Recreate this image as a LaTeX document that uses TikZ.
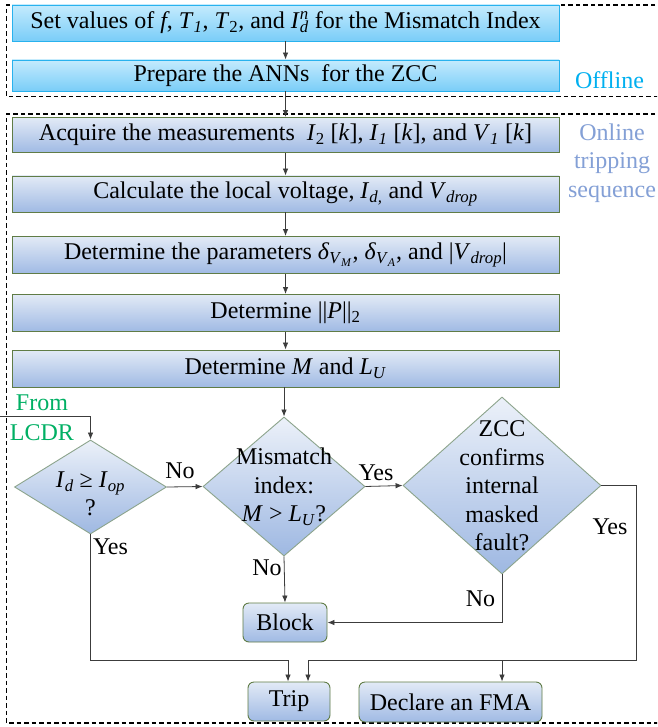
\documentclass[tikz,border=0pt]{standalone}
\usepackage{fontspec}
\setmainfont{Liberation Serif}
\usetikzlibrary{arrows.meta,shapes.geometric}

\definecolor{offtop}{RGB}{196,235,253}
\definecolor{offbot}{RGB}{122,205,248}
\definecolor{offedge}{RGB}{40,178,238}
\definecolor{ontop}{RGB}{226,234,246}
\definecolor{onbot}{RGB}{160,186,228}
\definecolor{onedge}{RGB}{96,124,70}
\definecolor{dtop}{RGB}{236,241,249}
\definecolor{dbot}{RGB}{158,184,226}
\definecolor{dedge}{RGB}{140,164,140}
\definecolor{linegray}{RGB}{60,60,60}
\definecolor{offcol}{RGB}{0,176,240}
\definecolor{oncol}{RGB}{132,160,214}
\definecolor{lcdrcol}{RGB}{0,176,100}

\tikzset{
  base/.style={font=\fontsize{24}{28.5}\selectfont, inner sep=0pt, align=center},
  offbox/.style={base, draw=offedge, line width=0.9pt, top color=offtop, bottom color=offbot,
    minimum width=547pt},
  onbox/.style={base, draw=onedge, line width=0.9pt, top color=ontop, bottom color=onbot,
    minimum width=547pt, minimum height=36pt},
  endbox/.style={base, draw=onedge, line width=0.9pt, top color=ontop, bottom color=onbot,
    rounded corners=6pt, minimum height=39pt},
  decision/.style={diamond, draw=dedge, line width=0.9pt, top color=dtop, bottom color=dbot,
    inner sep=0pt},
  dtext/.style={base},
  lbl/.style={base},
  arr/.style={draw=linegray, line width=0.8pt, -{Latex[length=7pt,width=5.5pt]}},
  frame/.style={draw=black, line width=1.1pt, dash pattern=on 4.5pt off 3pt},
  note/.style={base},
}

\newcommand{\vi}[1]{\textit{#1}}
\newcommand{\sbs}[1]{\textsubscript{#1}}

\begin{document}
\begin{tikzpicture}[x=1pt,y=-1pt]
\clip (0,0) rectangle (657,727);
\fill[white] (0,0) rectangle (657,727);

% dashed frames of the two stages
\draw[frame] (670,5) -- (6.5,5) -- (6.5,96.7) -- (670,96.7);
\draw[frame] (670,114) -- (6.5,114) -- (6.5,723) -- (670,723);

% offline stage
\node[offbox, minimum height=36pt] (b1) at (285.5,23)
  {Set values of \vi{f}, \vi{T}\sbs{\vi{1}}, \vi{T}\sbs{2}, and \vi{I}\rlap{\sbs{\vi{d}}}\textsuperscript{\vi{n}} for the Mismatch Index};
\node[offbox, minimum height=31pt] (b2) at (285.5,75.5) {Prepare the ANNs\ \ for the ZCC};
\node[note, text=offcol] (off) at (609.5,80) {Offline};

% online stage
\node[onbox, minimum height=35pt] (b3) at (285.5,135)
  {Acquire the measurements\ \ \vi{I}\sbs{2} [\vi{k}], \vi{I}\sbs{\vi{1}} [\vi{k}], and \vi{V}\sbs{\vi{1}} [\vi{k}]};
\node[onbox] (b4) at (285.5,194)
  {Calculate the local voltage, \vi{I}\sbs{\vi{d,}} and \vi{V}\sbs{\vi{drop}}};
\node[onbox, minimum height=37pt] (b5) at (285.5,255)
  {Determine the parameters \vi{δ}\sbs{\vi{V}\sbs{\vi{M}}}, \vi{δ}\sbs{\vi{V}\sbs{\vi{A}}}, and |\vi{V}\sbs{\vi{drop}}|};
\node[onbox, minimum height=37pt] (b6) at (285.5,313) {Determine ||\vi{P}||\sbs{2}};
\node[onbox, minimum height=37pt] (b7) at (285.5,368.5) {Determine \vi{M} and \vi{L}\sbs{\vi{U}}};
\node[note, text=oncol] (on) at (612,163) {Online\\tripping\\sequence};

% decisions
\node[decision, minimum width=152pt, minimum height=94pt] (d1) at (90.5,487) {};
\node[dtext] (d1t) at (90.5,494) {\vi{I}\sbs{\vi{d}} ≥ \vi{I}\sbs{\vi{op}}\\?};
\node[decision, minimum width=162pt, minimum height=139pt] (d2) at (284,486.5) {};
\node[dtext] (d2t) at (284,487) {Mismatch\\index:\\\vi{M} > \vi{L}\sbs{\vi{U}}?};
\node[decision, minimum width=198pt, minimum height=177pt] (d3) at (502,485.5) {};
\node[dtext] (d3t) at (502,486) {ZCC\\confirms\\internal\\masked\\fault?};

% outcomes
\node[endbox, minimum width=84pt] (block) at (285,622.5) {Block};
\node[endbox, minimum width=82pt] (trip) at (289,701.5) {Trip};
\node[endbox, minimum width=183pt, minimum height=40pt] (fma) at (450.5,702) {Declare an FMA};

% external input
\node[note, text=lcdrcol] (from) at (42,403) {From};
\node[note, text=lcdrcol] (lcdr) at (42,433) {LCDR};
\coordinate (lin) at (0,416);

% junction points on the lower bus
\coordinate (t1) at (288,660);
\coordinate (t2) at (308,660);
\coordinate (yr) at (636,660);
\coordinate (f1) at (502,660);

% main sequence
\draw[arr] (b1) -- (b2);
\draw[arr] (b2) -- (b3);
\draw[arr] (b3) -- (b4);
\draw[arr] (b4) -- (b5);
\draw[arr] (b5) -- (b6);
\draw[arr] (b6) -- (b7);
\draw[arr] (d2 |- b7.south) -- (d2.north);

\draw[arr] (lin) -| (d1.north);
\draw[arr] (d1.east) -- (d2.west);
\draw[arr] (d2.east) -- (d3.west);
\draw[arr] (d2.south) -- (block.north);
\draw[arr] (d3.south) |- (block.east);
\draw[arr] (d1.south) |- (t1) -- (t1 |- trip.north);
\draw[arr] (d3.east) -| (yr) -- (t2) -- (t2 |- trip.north);
\draw[arr] (f1) -- (f1 |- fma.north);

% branch labels
\node[lbl] (n1) at (180,471) {No};
\node[lbl] (y1) at (376,473) {Yes};
\node[lbl] (y0) at (110.5,547) {Yes};
\node[lbl] (n2) at (267,568) {No};
\node[lbl] (n3) at (480.5,599) {No};
\node[lbl] (y3) at (610,527) {Yes};
\end{tikzpicture}
\end{document}
